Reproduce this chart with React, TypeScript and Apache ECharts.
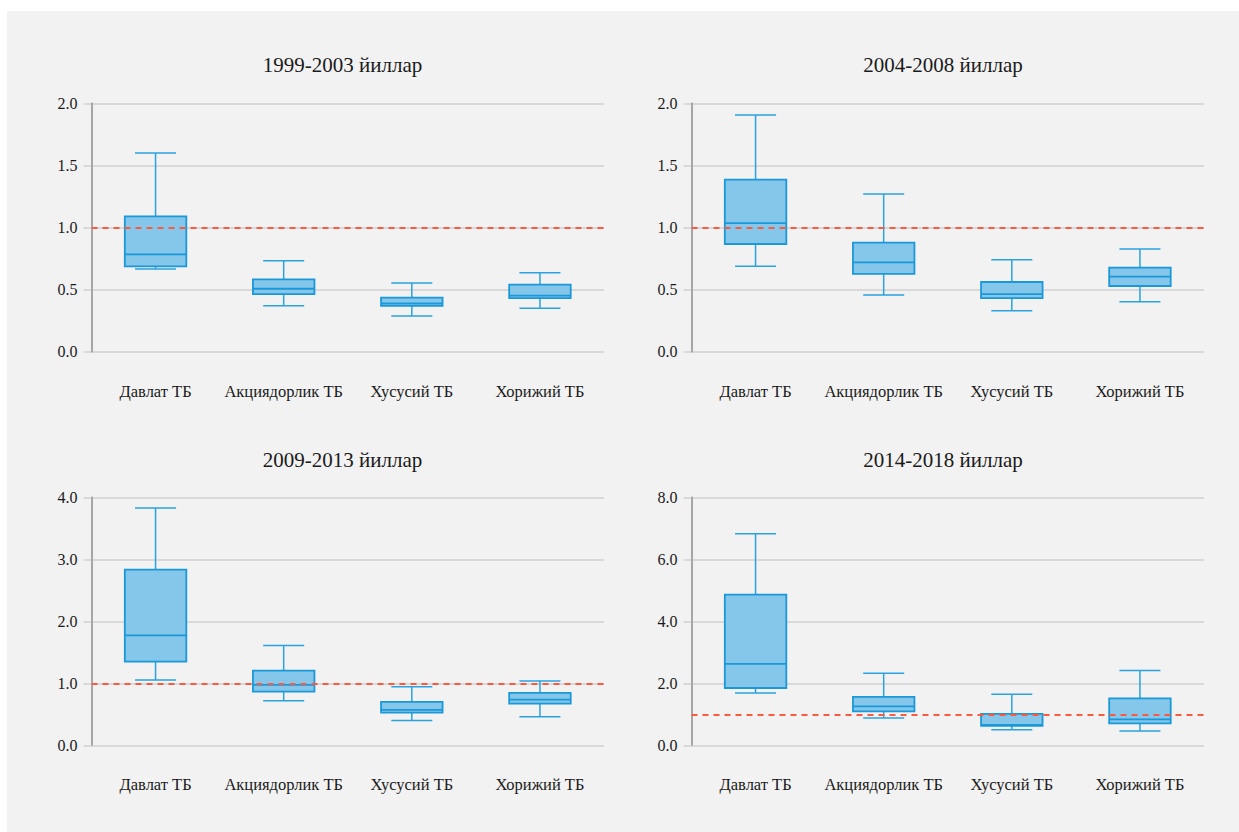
import React, { useEffect, useRef } from "react";
import * as echarts from "echarts";

const categories = ["Давлат ТБ", "Акциядорлик ТБ", "Хусусий ТБ", "Хорижий ТБ"];
const titles = ["1999-2003 йиллар", "2004-2008 йиллар", "2009-2013 йиллар", "2014-2018 йиллар"];

// [low, Q1, median, Q3, high] for each category
const period1 = [
  [0.666, 0.687, 0.784, 1.09, 1.6],
  [0.37, 0.464, 0.507, 0.583, 0.733],
  [0.287, 0.37, 0.389, 0.435, 0.553],
  [0.349, 0.432, 0.451, 0.54, 0.636],
];
const period2 = [
  [0.687, 0.867, 1.036, 1.385, 1.906],
  [0.456, 0.626, 0.719, 0.878, 1.27],
  [0.33, 0.432, 0.464, 0.561, 0.741],
  [0.403, 0.529, 0.604, 0.677, 0.827],
];
const period3 = [
  [1.054, 1.349, 1.774, 2.833, 3.828],
  [0.72, 0.866, 0.973, 1.204, 1.608],
  [0.398, 0.527, 0.57, 0.699, 0.946],
  [0.462, 0.672, 0.737, 0.844, 1.038],
];
const period4 = [
  [1.688, 1.849, 2.624, 4.86, 6.828],
  [0.882, 1.097, 1.258, 1.559, 2.323],
  [0.505, 0.624, 0.656, 1.011, 1.645],
  [0.462, 0.71, 0.839, 1.516, 2.409],
];
const periods = [period1, period2, period3, period4];
const yMax = [2, 2, 4, 8];
const yInterval = [0.5, 0.5, 1, 2];
const thresholdValue = 1.0;

const FONT = '"Liberation Serif", "Times New Roman", serif';
const BOX_FILL = "#84c7eb";
const BOX_STROKE = "#1a98d8";
const WHISKER = "#2aa2e0";

export default function App() {
  const ref = useRef<HTMLDivElement>(null);
  useEffect(() => {
    if (!ref.current) return;
    const chart = echarts.init(ref.current, undefined, { renderer: "svg" });
    const gridPos = [
      { left: 84.5, width: 512.5, top: 92.3, height: 248.4 },
      { left: 684.5, width: 512.5, top: 92.3, height: 248.4 },
      { left: 84.5, width: 512.5, top: 486.3, height: 248 },
      { left: 684.5, width: 512.5, top: 486.3, height: 248 },
    ];
    const titlePos = [
      { x: 335.5, y: 43 },
      { x: 936, y: 43 },
      { x: 335.5, y: 438 },
      { x: 936, y: 438 },
    ];
    const option: any = {
      animation: false,
      backgroundColor: "#f2f2f2",
      title: titles.map((t, i) => ({
        text: t,
        left: titlePos[i].x,
        top: titlePos[i].y,
        textAlign: "center",
        padding: 0,
        textStyle: { fontFamily: FONT, fontSize: 21, fontWeight: "normal", color: "#1a1a1a" },
      })),
      grid: gridPos.map((g) => ({ ...g, containLabel: false })),
      xAxis: gridPos.map((_, i) => ({
        type: "category",
        gridIndex: i,
        data: categories,
        axisLine: { show: false },
        axisTick: { show: false },
        axisLabel: { fontFamily: FONT, fontSize: 16.5, color: "#1a1a1a", margin: 31, interval: 0 },
        splitLine: { show: false },
      })),
      yAxis: gridPos.map((_, i) => ({
        type: "value",
        gridIndex: i,
        min: 0,
        max: yMax[i],
        interval: yInterval[i],
        axisLine: { show: true, lineStyle: { color: "#8c8c8c", width: 1.5 } },
        axisTick: { show: true, inside: false, length: 8, lineStyle: { color: "#d0d0d0", width: 1.5 } },
        axisLabel: {
          fontFamily: FONT,
          fontSize: 16,
          color: "#1a1a1a",
          margin: 14,
          formatter: (v: number) => v.toFixed(1),
        },
        splitLine: { show: true, lineStyle: { color: "#d0d0d0", width: 1.5 } },
      })),
      series: periods.map((p, i) => ({
        type: "custom",
        xAxisIndex: i,
        yAxisIndex: i,
        data: p.map((d, j) => [j, ...d]),
        encode: { x: 0, y: [1, 2, 3, 4, 5] },
        renderItem: (params: any, api: any) => {
          const xi = api.value(0);
          const low = api.coord([xi, api.value(1)]);
          const q1 = api.coord([xi, api.value(2)]);
          const med = api.coord([xi, api.value(3)]);
          const q3 = api.coord([xi, api.value(4)]);
          const high = api.coord([xi, api.value(5)]);
          const band = api.size([1, 0])[0];
          const bw = band * 0.48;
          const cw = band * 0.32;
          const cx = low[0];
          const wStyle = { stroke: WHISKER, lineWidth: 1.5 };
          return {
            type: "group",
            children: [
              { type: "line", shape: { x1: cx, y1: high[1], x2: cx, y2: q3[1] }, style: wStyle },
              { type: "line", shape: { x1: cx, y1: q1[1], x2: cx, y2: low[1] }, style: wStyle },
              { type: "line", shape: { x1: cx - cw / 2, y1: high[1], x2: cx + cw / 2, y2: high[1] }, style: wStyle },
              { type: "line", shape: { x1: cx - cw / 2, y1: low[1], x2: cx + cw / 2, y2: low[1] }, style: wStyle },
              {
                type: "rect",
                shape: { x: cx - bw / 2, y: q3[1], width: bw, height: q1[1] - q3[1] },
                style: { fill: BOX_FILL, stroke: BOX_STROKE, lineWidth: 1.8 },
              },
              {
                type: "line",
                shape: { x1: cx - bw / 2, y1: med[1], x2: cx + bw / 2, y2: med[1] },
                style: { stroke: BOX_STROKE, lineWidth: 1.8 },
              },
            ],
          };
        },
        markLine: {
          silent: true,
          symbol: "none",
          label: { show: false },
          lineStyle: { color: "#fa5a40", width: 1.8, type: [6, 5] },
          data: [{ yAxis: thresholdValue }],
        },
        z: 3,
      })),
    };
    chart.setOption(option);
    return () => chart.dispose();
  }, []);
  return (
    <div
      ref={ref}
      style={{ position: "absolute", left: 7, top: 11, width: 1232, height: 821, background: "#f2f2f2" }}
    />
  );
}
